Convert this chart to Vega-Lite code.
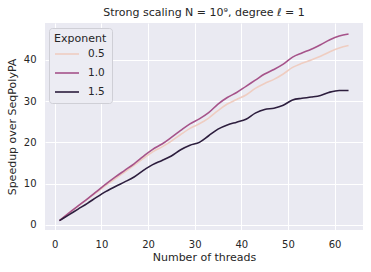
{
  "$schema": "https://vega.github.io/schema/vega-lite/v6.json",
  "width": 318,
  "height": 207,
  "autosize": {"type": "none"},
  "padding": {"left": 45, "top": 23, "right": 8, "bottom": 42},
  "background": "white",
  "title": {"text": "Strong scaling N = 10⁹, degree ℓ = 1", "font": "DejaVu Sans", "fontSize": 11, "fontWeight": "normal", "color": "#262626", "offset": 5},
  "config": {
    "view": {"fill": "#eaeaf2", "stroke": null},
    "font": "DejaVu Sans",
    "axis": {"domain": false, "ticks": false, "gridColor": "white", "gridWidth": 1, "labelColor": "#262626", "titleColor": "#262626", "labelFontSize": 10, "titleFontSize": 11, "titleFontWeight": "normal", "labelFont": "DejaVu Sans", "titleFont": "DejaVu Sans"}
  },
  "data": {"values": [
    {"t":1,"e":"0.5","v":1.0},{"t":3,"e":"0.5","v":2.8},{"t":5,"e":"0.5","v":4.5},{"t":7,"e":"0.5","v":6.2},{"t":9,"e":"0.5","v":7.9},{"t":11,"e":"0.5","v":9.6},{"t":13,"e":"0.5","v":11.2},{"t":15,"e":"0.5","v":12.8},{"t":17,"e":"0.5","v":14.4},{"t":19,"e":"0.5","v":16.1},{"t":21,"e":"0.5","v":17.7},{"t":23,"e":"0.5","v":18.9},{"t":25,"e":"0.5","v":20.3},{"t":27,"e":"0.5","v":21.9},{"t":29,"e":"0.5","v":23.4},{"t":31,"e":"0.5","v":24.5},{"t":33,"e":"0.5","v":25.9},{"t":35,"e":"0.5","v":27.7},{"t":37,"e":"0.5","v":29.3},{"t":39,"e":"0.5","v":30.4},{"t":41,"e":"0.5","v":31.5},{"t":43,"e":"0.5","v":33.1},{"t":45,"e":"0.5","v":34.3},{"t":47,"e":"0.5","v":35.3},{"t":49,"e":"0.5","v":36.6},{"t":51,"e":"0.5","v":38.2},{"t":53,"e":"0.5","v":39.2},{"t":55,"e":"0.5","v":40.0},{"t":57,"e":"0.5","v":40.9},{"t":59,"e":"0.5","v":42.0},{"t":61,"e":"0.5","v":42.9},{"t":63,"e":"0.5","v":43.5},
    {"t":1,"e":"1.0","v":1.0},{"t":3,"e":"1.0","v":2.8},{"t":5,"e":"1.0","v":4.6},{"t":7,"e":"1.0","v":6.3},{"t":9,"e":"1.0","v":8.1},{"t":11,"e":"1.0","v":9.9},{"t":13,"e":"1.0","v":11.6},{"t":15,"e":"1.0","v":13.2},{"t":17,"e":"1.0","v":14.8},{"t":19,"e":"1.0","v":16.6},{"t":21,"e":"1.0","v":18.3},{"t":23,"e":"1.0","v":19.6},{"t":25,"e":"1.0","v":21.2},{"t":27,"e":"1.0","v":22.9},{"t":29,"e":"1.0","v":24.5},{"t":31,"e":"1.0","v":25.7},{"t":33,"e":"1.0","v":27.2},{"t":35,"e":"1.0","v":29.3},{"t":37,"e":"1.0","v":30.9},{"t":39,"e":"1.0","v":32.1},{"t":41,"e":"1.0","v":33.6},{"t":43,"e":"1.0","v":35.1},{"t":45,"e":"1.0","v":36.6},{"t":47,"e":"1.0","v":37.7},{"t":49,"e":"1.0","v":39.0},{"t":51,"e":"1.0","v":40.7},{"t":53,"e":"1.0","v":41.7},{"t":55,"e":"1.0","v":42.6},{"t":57,"e":"1.0","v":43.7},{"t":59,"e":"1.0","v":44.9},{"t":61,"e":"1.0","v":45.8},{"t":63,"e":"1.0","v":46.3},
    {"t":1,"e":"1.5","v":1.0},{"t":3,"e":"1.5","v":2.4},{"t":5,"e":"1.5","v":3.8},{"t":7,"e":"1.5","v":5.2},{"t":9,"e":"1.5","v":6.7},{"t":11,"e":"1.5","v":8.1},{"t":13,"e":"1.5","v":9.3},{"t":15,"e":"1.5","v":10.4},{"t":17,"e":"1.5","v":11.6},{"t":19,"e":"1.5","v":13.2},{"t":21,"e":"1.5","v":14.6},{"t":23,"e":"1.5","v":15.6},{"t":25,"e":"1.5","v":16.7},{"t":27,"e":"1.5","v":18.2},{"t":29,"e":"1.5","v":19.3},{"t":31,"e":"1.5","v":20.0},{"t":33,"e":"1.5","v":21.6},{"t":35,"e":"1.5","v":23.2},{"t":37,"e":"1.5","v":24.2},{"t":39,"e":"1.5","v":24.9},{"t":41,"e":"1.5","v":25.6},{"t":43,"e":"1.5","v":27.1},{"t":45,"e":"1.5","v":28.0},{"t":47,"e":"1.5","v":28.3},{"t":49,"e":"1.5","v":29.0},{"t":51,"e":"1.5","v":30.3},{"t":53,"e":"1.5","v":30.7},{"t":55,"e":"1.5","v":31.0},{"t":57,"e":"1.5","v":31.4},{"t":59,"e":"1.5","v":32.2},{"t":61,"e":"1.5","v":32.6},{"t":63,"e":"1.5","v":32.6}
  ]},
  "mark": {"type": "line", "strokeWidth": 1.6, "interpolate": "monotone"},
  "encoding": {
    "x": {"field": "t", "type": "quantitative", "title": "Number of threads",
          "scale": {"domain": [-2.1, 66.1], "nice": false, "zero": false},
          "axis": {"values": [0, 10, 20, 30, 40, 50, 60], "labelPadding": 9, "titlePadding": 2}},
    "y": {"field": "v", "type": "quantitative", "title": "Speedup over SeqPolyPA",
          "scale": {"domain": [-1.28, 48.98], "nice": false, "zero": false},
          "axis": {"values": [0, 10, 20, 30, 40], "labelPadding": 9, "titlePadding": 6}},
    "color": {"field": "e", "type": "nominal", "title": "Exponent",
              "scale": {"domain": ["0.5", "1.0", "1.5"], "range": ["#efcdc1", "#a6538a", "#2d1e3e"]},
              "legend": {"orient": "none", "legendX": 4, "legendY": 5, "symbolType": "stroke", "symbolSize": 576, "symbolStrokeWidth": 1.6,
                         "fillColor": "#ececf3", "strokeColor": "#cfcfd6", "cornerRadius": 3, "padding": 5,
                         "titleFontSize": 11, "titleFontWeight": "normal", "titleColor": "#262626", "labelFontSize": 10.5, "labelColor": "#262626",
                         "rowPadding": -8, "labelOffset": 8, "titlePadding": -3}}
  }
}
